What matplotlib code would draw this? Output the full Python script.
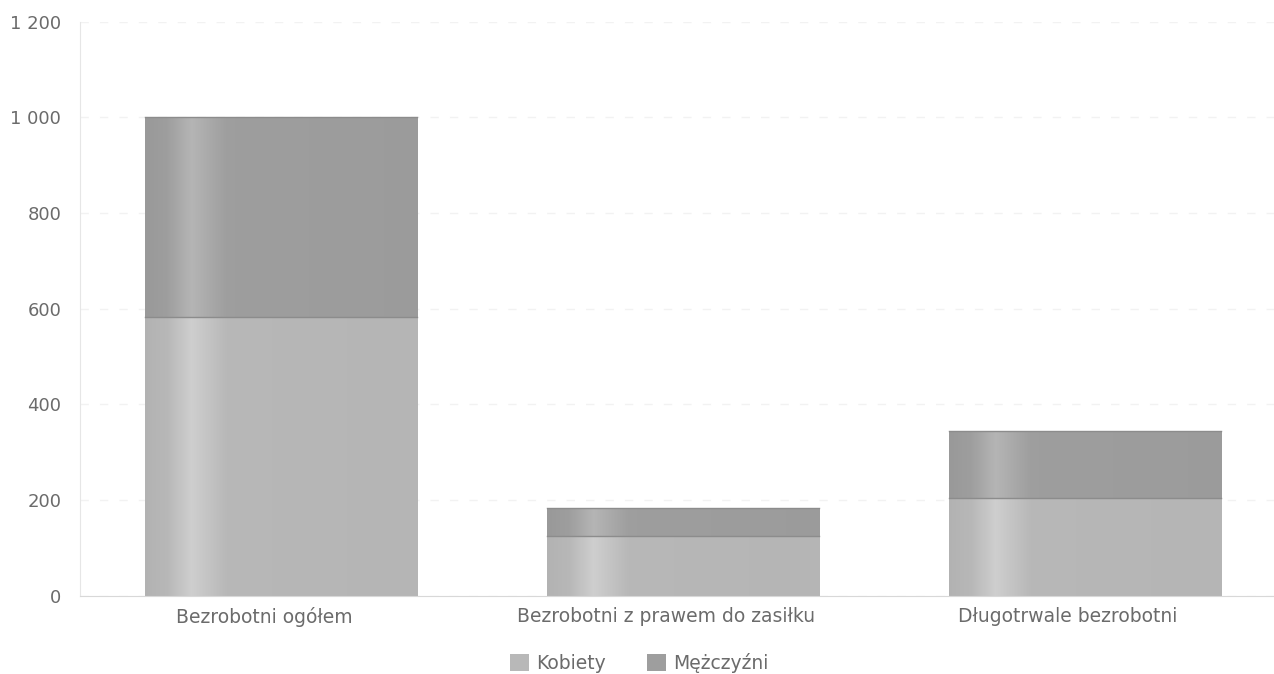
import numpy as np
import matplotlib.pyplot as plt
import matplotlib.transforms as mtransforms
from matplotlib.colors import LinearSegmentedColormap
from matplotlib.patches import Patch

plt.rcParams['font.family'] = ['DejaVu Sans']

categories = ['Bezrobotni ogółem', 'Bezrobotni z prawem do zasiłku', 'Długotrwale bezrobotni']
kobiety = [582, 125, 205]
mezczyzni = [418, 59, 140]
yticks = [0, 200, 400, 600, 800, 1000, 1200]
ytick_labels = ['0', '200', '400', '600', '800', '1 000', '1 200']


def shade(base):
    # soft light vertical band near the left edge, like a cylinder highlight
    b = np.array(base)
    hi = np.minimum(b + 0.09, 1.0)
    return LinearSegmentedColormap.from_list(
        's', [(0, b - 0.02), (0.08, b), (0.17, hi), (0.3, b), (1, b - 0.01)])


cm_k = shade((0.72, 0.72, 0.72))
cm_m = shade((0.62, 0.62, 0.62))
grad = np.linspace(0, 1, 256).reshape(1, -1)

fig = plt.figure(figsize=(12.74, 6.74), dpi=100)
ax = fig.add_axes([0.0628, 0.116, 0.9372, 0.852])

x = np.arange(len(categories))
w = 0.678
bk = ax.bar(x, kobiety, w, color='none', edgecolor='none')
bm = ax.bar(x, mezczyzni, w, bottom=kobiety, color='none', edgecolor='none')

for bars, cm in ((bk, cm_k), (bm, cm_m)):
    for r in bars:
        x0, y0 = r.get_x(), r.get_y()
        im = ax.imshow(grad, cmap=cm, aspect='auto', interpolation='bicubic',
                       extent=[x0, x0 + r.get_width(), y0, y0 + r.get_height()], zorder=2)
        im.set_clip_path(r)
        ax.plot([x0, x0 + r.get_width()], [y0 + r.get_height()] * 2, color='#8c8c8c', lw=1, zorder=3)

ax.set_xlim(-0.5, 2.47)
ax.set_ylim(0, 1200)
ax.set_yticks(yticks)
ax.set_yticklabels(ytick_labels)
ax.set_xticks(x)
ax.set_xticklabels(categories)
ax.tick_params(axis='both', length=0, colors='#6b6b6b', labelsize=13)
ax.tick_params(axis='x', labelsize=13.5, pad=8)
ax.tick_params(axis='y', pad=13.5)

# category labels sit a little left of the bar centres in the original
shift = mtransforms.ScaledTranslation(-0.17, 0, fig.dpi_scale_trans)
for lab in ax.get_xticklabels():
    lab.set_transform(lab.get_transform() + shift)

for s in ('top', 'right'):
    ax.spines[s].set_visible(False)
ax.spines['left'].set_color('#e6e6e6')
ax.spines['bottom'].set_color('#d8d8d8')
ax.yaxis.grid(True, color='#f2f2f2', linestyle=(0, (6, 8)), lw=1)
ax.set_axisbelow(True)

handles = [Patch(facecolor='#b8b8b8', label='Kobiety'), Patch(facecolor='#9e9e9e', label='Mężczyźni')]
fig.legend(handles=handles, loc='lower center', ncol=2, frameon=False, fontsize=13.5,
           labelcolor='#6b6b6b', bbox_to_anchor=(0.502, -0.024), handlelength=1.0,
           handleheight=1.0, columnspacing=2.2, handletextpad=0.4)

fig.savefig('out.png', dpi=100)
